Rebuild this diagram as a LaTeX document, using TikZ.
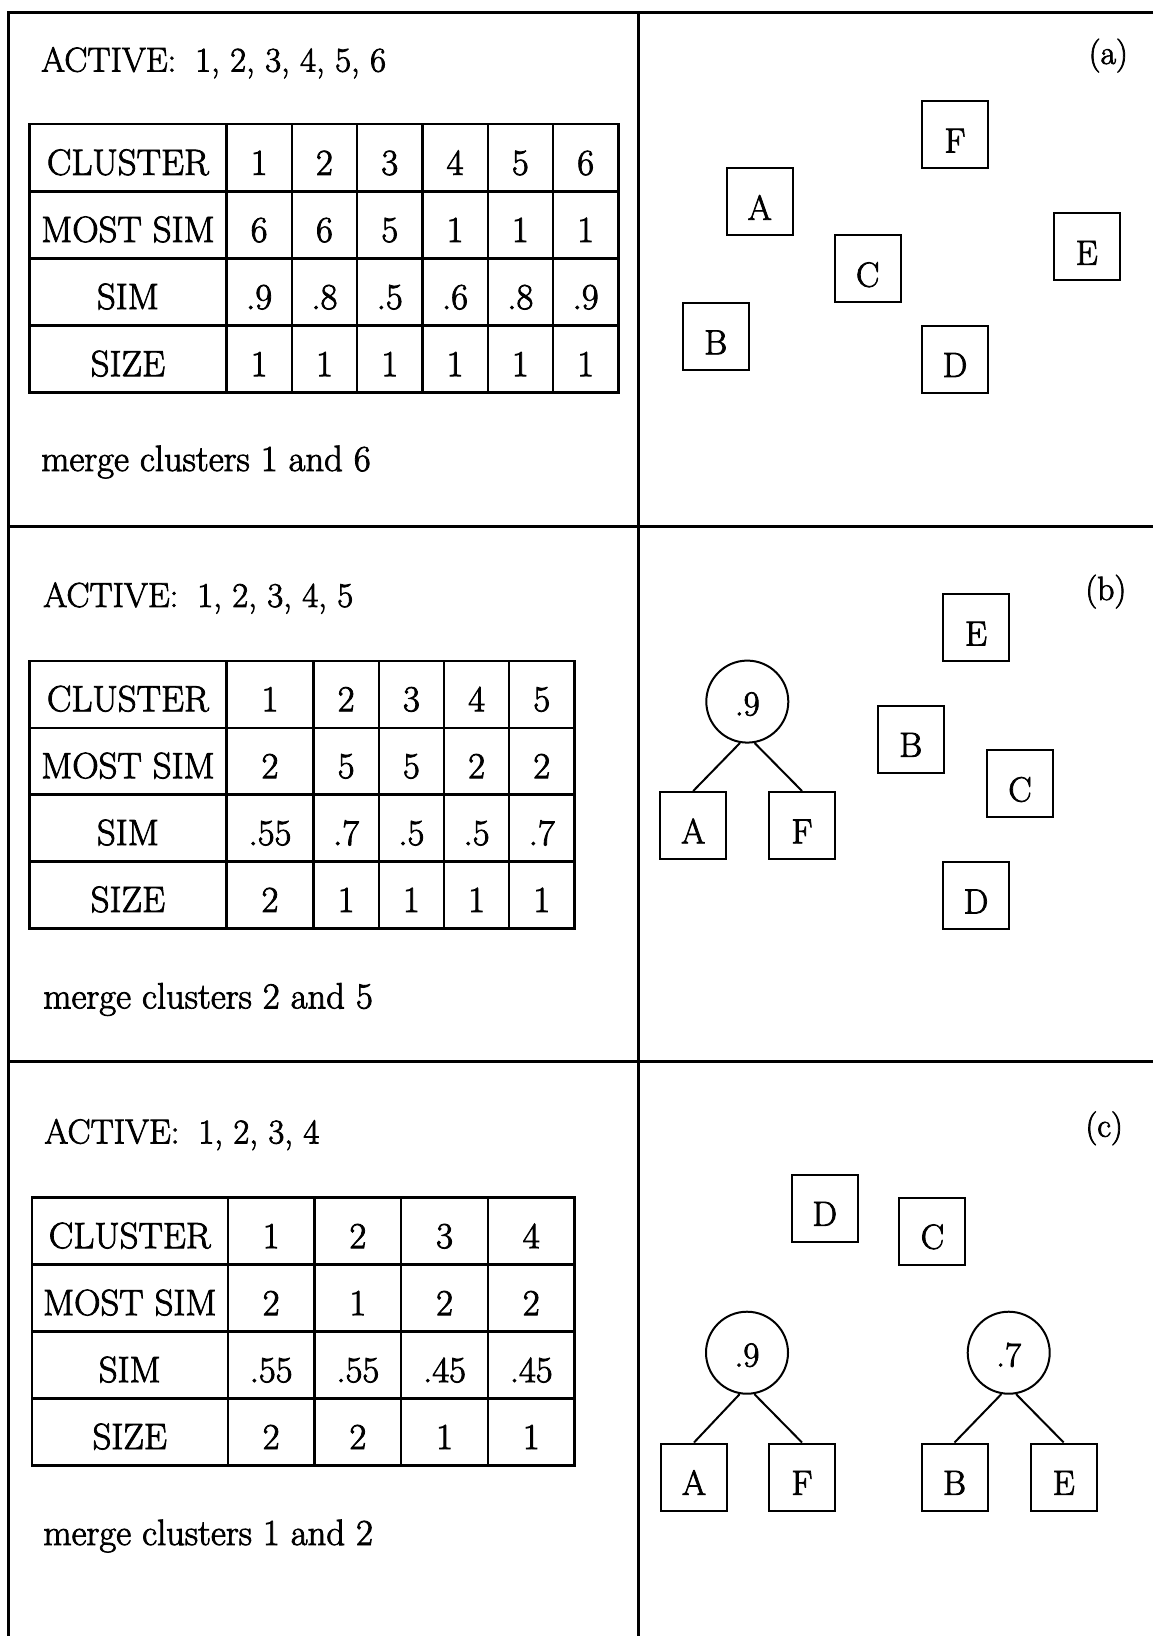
\documentclass[tikz,border=0pt]{standalone}
\usepackage{fontspec}
\setmainfont{Latin Modern Roman}[FakeBold=2.2]
\begin{document}
\begin{tikzpicture}[x=0.5pt,y=-0.5pt,
  every node/.style={inner sep=0pt},
  bigfont/.style={font=\fontsize{18.3}{22}\selectfont},
  leaffont/.style={font=\fontsize{17.5}{21}\selectfont},
  actfont/.style={font=\fontsize{17.3}{21}\selectfont},
  labfont/.style={font=\fontsize{16.8}{20}\selectfont},
  frameline/.style={line width=1.3pt},
  cell/.style={draw, line width=1.2pt, bigfont, text height=17pt, text depth=0pt},
  hcell/.style={cell, minimum width=98.55pt},
  leaf/.style={draw, line width=1pt, leaffont, minimum width=33pt, minimum height=33.5pt, text height=17.8pt, text depth=0pt},
  merged/.style={draw, circle, line width=1pt, leaffont, minimum size=41pt, text height=13.8pt, text depth=0pt},
  link/.style={line width=1pt},
  caption/.style={bigfont, anchor=base west},
  active/.style={actfont, anchor=base west},
  panellabel/.style={labfont, anchor=base east}]
\useasboundingbox (0,0) rectangle (1153,1636);

% frame
\draw[frameline] (1153,12.5) -- (8.2,12.5) -- (8.2,1636);
\draw[frameline] (638.5,12.5) -- (638.5,1636);
\draw[frameline] (8.2,526.3) -- (1153,526.3);
\draw[frameline] (8.2,1061.5) -- (1153,1061.5);

% ---------------- panel (a) ----------------
\node[active] (act-a) at (40.8,71.6) {ACTIVE:\hspace{0.55em}1, 2, 3, 4, 5, 6};
\node[caption] (mrg-a) at (40.8,471) {merge clusters 1 and 6};
\node[panellabel] (lab-a) at (1128.3,64) {(a)};

\begin{scope}[every node/.append style={minimum height=33.55pt}]
\node[hcell] (ta-h1) at (127.95,157.85) {CLUSTER};
\node[hcell] (ta-h2) at (127.95,224.95) {MOST SIM};
\node[hcell] (ta-h3) at (127.95,292.05) {SIM};
\node[hcell] (ta-h4) at (127.95,359.15) {SIZE};
\foreach \v [count=\i] in {1,2,3,4,5,6}
  \node[cell, minimum width=32.65pt] (ta-1-\i) at ({226.5+65.3*(\i-0.5)},157.85) {\v};
\foreach \v [count=\i] in {6,6,5,1,1,1}
  \node[cell, minimum width=32.65pt] (ta-2-\i) at ({226.5+65.3*(\i-0.5)},224.95) {\v};
\foreach \v [count=\i] in {.9,.8,.5,.6,.8,.9}
  \node[cell, minimum width=32.65pt] (ta-3-\i) at ({226.5+65.3*(\i-0.5)},292.05) {\v};
\foreach \v [count=\i] in {1,1,1,1,1,1}
  \node[cell, minimum width=32.65pt] (ta-4-\i) at ({226.5+65.3*(\i-0.5)},359.15) {\v};
\end{scope}

\node[leaf] (a-F) at (955,134.8) {F};
\node[leaf] (a-A) at (759.7,202) {A};
\node[leaf] (a-C) at (867.7,268.9) {C};
\node[leaf] (a-E) at (1086.7,247) {E};
\node[leaf] (a-B) at (715.7,336.5) {B};
\node[leaf] (a-D) at (955,359.2) {D};

% ---------------- panel (b) ----------------
\node[active] (act-b) at (42.9,606.9) {ACTIVE:\hspace{0.55em}1, 2, 3, 4, 5};
\node[caption] (mrg-b) at (42.9,1008.4) {merge clusters 2 and 5};
\node[panellabel] (lab-b) at (1126.7,600) {(b)};

\begin{scope}[every node/.append style={minimum height=33.45pt}]
\node[hcell] (tb-h1) at (127.95,694.25) {CLUSTER};
\node[hcell] (tb-h2) at (127.95,761.15) {MOST SIM};
\node[hcell] (tb-h3) at (127.95,828.05) {SIM};
\node[hcell] (tb-h4) at (127.95,894.95) {SIZE};
\foreach \v/\x/\w [count=\i] in {1/270/43.5, 2/346.15/32.6, 3/411.4/32.6, 4/476.6/32.6, 5/541.75/32.6}
  \node[cell, minimum width=\w pt] (tb-1-\i) at (\x,694.25) {\v};
\foreach \v/\x/\w [count=\i] in {2/270/43.5, 5/346.15/32.6, 5/411.4/32.6, 2/476.6/32.6, 2/541.75/32.6}
  \node[cell, minimum width=\w pt] (tb-2-\i) at (\x,761.15) {\v};
\foreach \v/\x/\w [count=\i] in {.55/270/43.5, .7/346.15/32.6, .5/411.4/32.6, .5/476.6/32.6, .7/541.75/32.6}
  \node[cell, minimum width=\w pt] (tb-3-\i) at (\x,828.05) {\v};
\foreach \v/\x/\w [count=\i] in {2/270/43.5, 1/346.15/32.6, 1/411.4/32.6, 1/476.6/32.6, 1/541.75/32.6}
  \node[cell, minimum width=\w pt] (tb-4-\i) at (\x,894.95) {\v};
\end{scope}

\node[leaf] (b-E) at (976,627.8) {E};
\node[merged] (b-AF) at (747.3,701.6) {.9};
\node[leaf] (b-B) at (910.7,739) {B};
\node[leaf] (b-C) at (1020,783.7) {C};
\node[leaf] (b-A) at (693.2,825.5) {A};
\node[leaf] (b-F) at (802,825.5) {F};
\node[leaf] (b-D) at (976,895.6) {D};
\draw[link] (b-AF.260) -- (b-A.north);
\draw[link] (b-AF.280) -- (b-F.north);

% ---------------- panel (c) ----------------
\node[active] (act-c) at (44,1143.4) {ACTIVE:\hspace{0.55em}1, 2, 3, 4};
\node[caption] (mrg-c) at (43,1545) {merge clusters 1 and 2};
\node[panellabel] (lab-c) at (1123.3,1136.7) {(c)};

\begin{scope}[every node/.append style={minimum height=33.5pt}]
\node[hcell, minimum width=98pt] (tc-h1) at (129.8,1231.1) {CLUSTER};
\node[hcell, minimum width=98pt] (tc-h2) at (129.8,1298.1) {MOST SIM};
\node[hcell, minimum width=98pt] (tc-h3) at (129.8,1365.1) {SIM};
\node[hcell, minimum width=98pt] (tc-h4) at (129.8,1432.05) {SIZE};
\foreach \v [count=\i] in {1,2,3,4}
  \node[cell, minimum width=43.35pt] (tc-1-\i) at ({227.8+86.7*(\i-0.5)},1231.1) {\v};
\foreach \v [count=\i] in {2,1,2,2}
  \node[cell, minimum width=43.35pt] (tc-2-\i) at ({227.8+86.7*(\i-0.5)},1298.1) {\v};
\foreach \v [count=\i] in {.55,.55,.45,.45}
  \node[cell, minimum width=43.35pt] (tc-3-\i) at ({227.8+86.7*(\i-0.5)},1365.1) {\v};
\foreach \v [count=\i] in {2,2,1,1}
  \node[cell, minimum width=43.35pt] (tc-4-\i) at ({227.8+86.7*(\i-0.5)},1432.05) {\v};
\end{scope}

\node[leaf] (c-D) at (824.7,1208) {D};
\node[leaf] (c-C) at (932.4,1231) {C};
\node[merged] (c-AF) at (747,1352.7) {.9};
\node[merged] (c-BE) at (1008.7,1352.7) {.7};
\node[leaf] (c-A) at (694,1477) {A};
\node[leaf] (c-F) at (802,1477) {F};
\node[leaf] (c-B) at (954.5,1477) {B};
\node[leaf] (c-E) at (1063.7,1477) {E};
\draw[link] (c-AF.260) -- (c-A.north);
\draw[link] (c-AF.280) -- (c-F.north);
\draw[link] (c-BE.260) -- (c-B.north);
\draw[link] (c-BE.280) -- (c-E.north);
\end{tikzpicture}
\end{document}
